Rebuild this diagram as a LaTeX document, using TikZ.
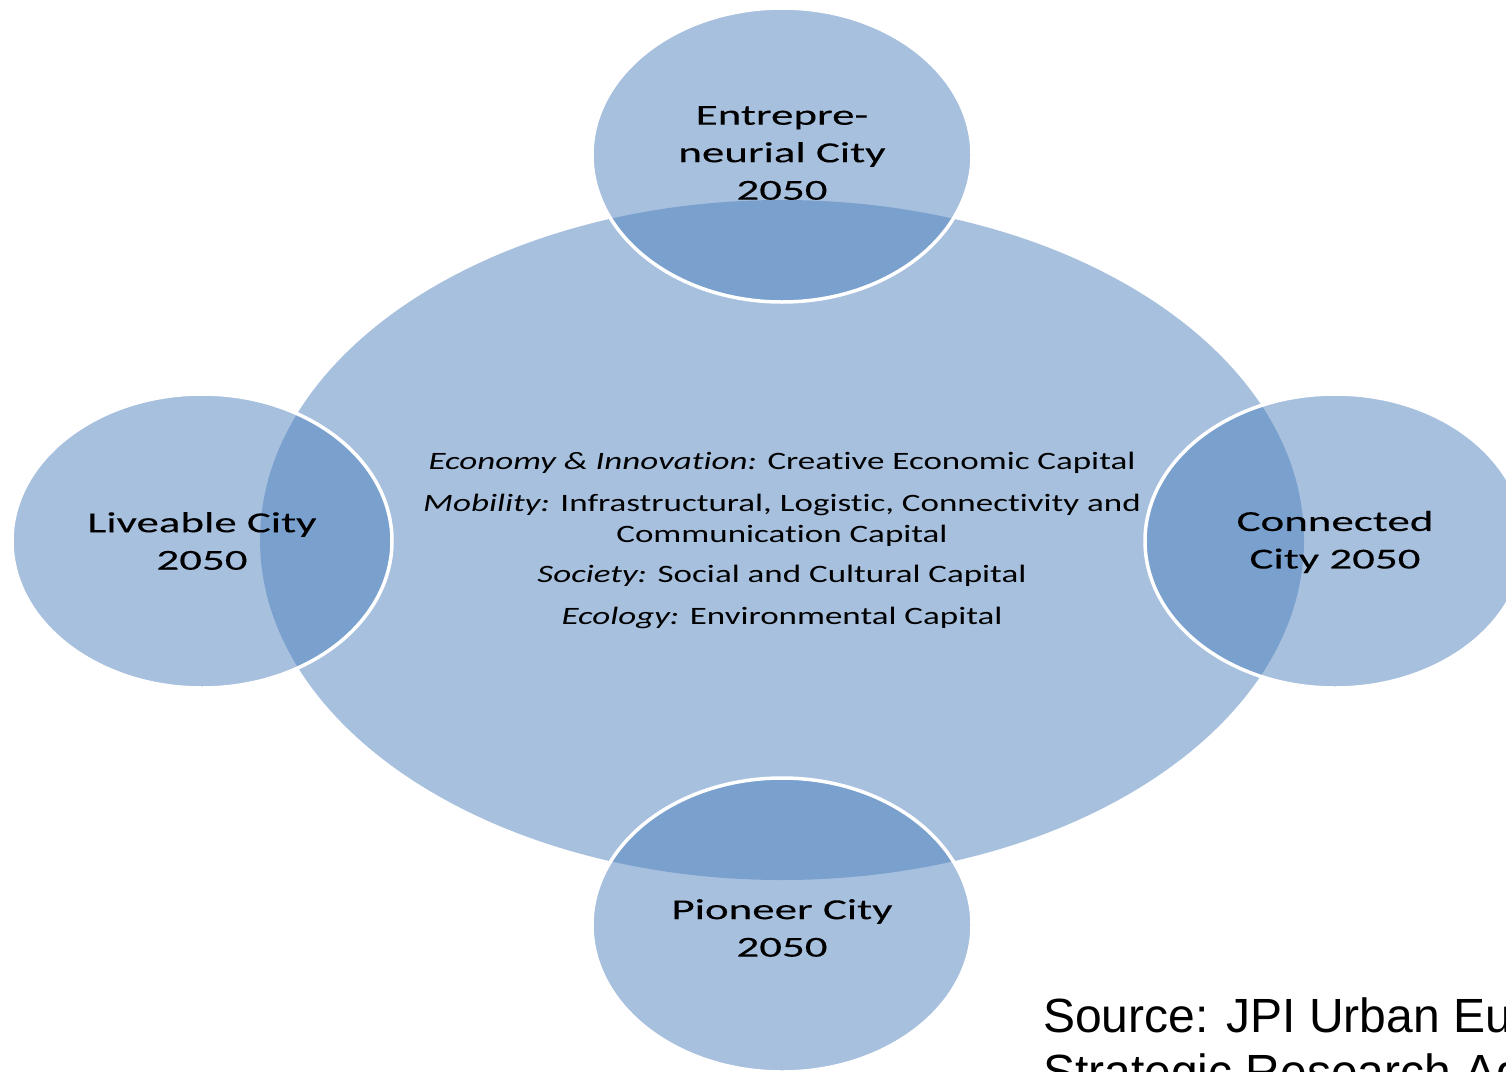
\documentclass[tikz,border=0pt]{standalone}
\usepackage{fontspec}
\setmainfont{Carlito}
\newfontfamily\cityfont[FakeStretch=1.55, FakeBold=0.15, Ligatures=NoCommon]{Carlito}
\newfontfamily\midfont[FakeStretch=1.4, Ligatures=NoCommon]{Carlito}
\newfontfamily\srcfont{Liberation Sans}
\usetikzlibrary{shapes.geometric}
\definecolor{officeblue}{RGB}{79,129,189}
\tikzset{
  bigell/.style={ellipse, fill=officeblue, fill opacity=0.5, inner sep=0pt},
  smallell/.style={ellipse, fill=officeblue, fill opacity=0.5, draw=white, draw opacity=1, line width=3.5pt, inner sep=0pt, minimum width=380pt, minimum height=294pt},
  citylbl/.style={align=center, font=\cityfont\fontsize{29}{37.5}\selectfont, text=black, inner sep=0pt},
  midlbl/.style={align=center, font=\midfont\fontsize{25}{31}\selectfont, text=black, inner sep=0pt, anchor=center},
  srclbl/.style={font=\srcfont\fontsize{48}{58}\selectfont, text=black, inner sep=0pt, anchor=base west}
}
\begin{document}
\begin{tikzpicture}[x=1pt, y=-1pt]
\useasboundingbox (0,0) rectangle (1506,1071);
\node[bigell, minimum width=1044pt, minimum height=680pt] (core) at (782,540) {};
\node[smallell] (top) at (782,155) {};
\node[smallell] (left) at (202,541) {};
\node[smallell] (right) at (1335,541) {};
\node[smallell] (bottom) at (782,925) {};
% labels
\node[citylbl] (toplbl) at (782,153) {Entrepre-\\neurial City\\2050};
\node[citylbl] (leftlbl) at (202,541) {Liveable City\\2050};
\node[citylbl] (rightlbl) at (1335,542) {Connected\\City 2050};
\node[citylbl] (bottomlbl) at (782,928) {Pioneer City\\2050};
\node[midlbl] (l1) at (782,463) {\itshape Economy \& Innovation:\upshape{} Creative Economic Capital};
\node[midlbl] (l2) at (782,520) {\itshape Mobility:\upshape{} Infrastructural, Logistic, Connectivity and\\Communication Capital};
\node[midlbl] (l3) at (782,576) {\itshape Society:\upshape{} Social and Cultural Capital};
\node[midlbl] (l4) at (782,618) {\itshape Ecology:\upshape{} Environmental Capital};
\node[srclbl] (src1) at (1043,1032) {Source: JPI Urban Eu};
\node[srclbl] (src2) at (1043,1088) {Strategic Research Ag};
\end{tikzpicture}
\end{document}
